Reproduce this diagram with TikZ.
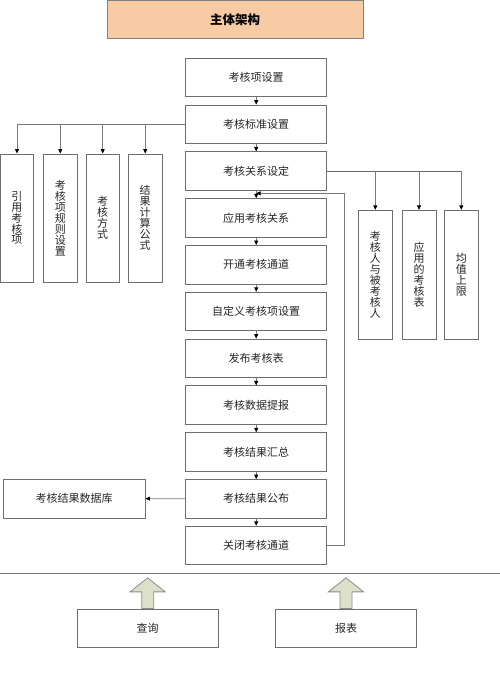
\documentclass[tikz,border=0pt]{standalone}
\usepackage{fontspec}
\setmainfont{Noto Sans CJK SC}
\usetikzlibrary{arrows.meta,calc}
\definecolor{boxgray}{HTML}{6E6E6E}
\definecolor{linegray}{HTML}{7A7A7A}
\definecolor{titlefill}{HTML}{F9CBA5}
\definecolor{arrowfill}{HTML}{DDE0C9}
\begin{document}
\begin{tikzpicture}[x=1pt,y=-1pt,
  box/.style={draw=boxgray, line width=0.9pt, fill=white, inner sep=0pt,
    font=\fontsize{11}{11.5}\selectfont, text=black!85},
  mainbox/.style={box, minimum width=141pt, minimum height=38.5pt},
  vbox/.style={box, minimum width=33.5pt, minimum height=128pt, align=center,
    font=\fontsize{11}{10.9}\selectfont},
  rbox/.style={box, minimum width=34pt, minimum height=128.7pt, align=center,
    font=\fontsize{11}{10.9}\selectfont},
  conn/.style={draw=linegray, line width=0.8pt},
  arr/.style={conn, -{Triangle[length=4.5pt,width=4pt,color=black]}},
  block/.style={draw=black!45, line width=0.8pt, fill=arrowfill}]
\useasboundingbox (0,0) rectangle (500,680);

% title
\node[draw=black!50, line width=0.9pt, fill=titlefill, minimum width=256pt, minimum height=38.5pt,
  inner sep=0pt, font=\fontsize{12.5}{13}\selectfont\bfseries] (title) at (235,19.5) {主体架构};

% main column
\node[mainbox] (b1) at (256.2,77.55) {考核项设置};
\node[mainbox] (b2) at (256.2,124.35) {考核标准设置};
\node[mainbox] (b3) at (256.2,171.15) {考核关系设定};
\node[mainbox] (b4) at (256.2,217.95) {应用考核关系};
\node[mainbox] (b5) at (256.2,264.75) {开通考核通道};
\node[mainbox] (b6) at (256.2,311.55) {自定义考核项设置};
\node[mainbox] (b7) at (256.2,358.35) {发布考核表};
\node[mainbox] (b8) at (256.2,405.15) {考核数据提报};
\node[mainbox] (b9) at (256.2,451.95) {考核结果汇总};
\node[mainbox] (b10) at (256.2,498.75) {考核结果公布};
\node[mainbox] (b11) at (256.2,545.55) {关闭考核通道};

% left vertical boxes
\node[vbox] (l1) at (17,218) {引\\用\\考\\核\\项};
\node[vbox] (l2) at (60.3,218) {考\\核\\项\\规\\则\\设\\置};
\node[vbox] (l3) at (102.7,218) {考\\核\\方\\式};
\node[vbox] (l4) at (145.2,218) {结\\果\\计\\算\\公\\式};

% right vertical boxes
\node[rbox] (r1) at (375.3,274.65) {考\\核\\人\\与\\被\\考\\核\\人};
\node[rbox] (r2) at (419,274.65) {应\\用\\的\\考\\核\\表};
\node[rbox] (r3) at (461.3,274.65) {均\\值\\上\\限};

% database box
\node[box, minimum width=141.7pt, minimum height=38.7pt] (db) at (74.15,498.65) {考核结果数据库};

% bottom boxes
\node[box, minimum width=141.3pt, minimum height=38.7pt] (q) at (147.65,628.35) {查询};
\node[box, minimum width=141.3pt, minimum height=38.7pt] (rep) at (346,628.35) {报表};

% main chain arrows
\foreach \a/\b in {b1/b2,b2/b3,b3/b4,b4/b5,b5/b6,b6/b7,b7/b8,b8/b9,b9/b10,b10/b11}
  \draw[arr] (\a.south) -- (\b.north);

% left branches
\draw[conn] (b2.west) -- (l1.north |- b2.west);
\foreach \n in {l1,l2,l3,l4}
  \draw[arr] (\n.north |- b2.west) -- (\n.north);

% right branches
\draw[conn, draw=black!60, line width=1pt] (b3.east) -- (r3.north |- b3.east);
\foreach \n in {r1,r2,r3}
  \draw[arr] (\n.north |- b3.east) -- (\n.north);

% feedback loop
\coordinate (fb) at (344.3,193.3);
\draw[arr] (b11.east) -| (fb) -- (b3.south |- fb);

% to database
\draw[arr] (b10.west) -- (db.east);

% separator
\coordinate (sepL) at (0,573.7);
\coordinate (sepR) at (500,573.7);
\draw[draw=black!55, line width=0.9pt] (sepL) -- (sepR);

% block arrows
\foreach \n in {q,rep}
  \draw[block] ($(\n.north)+(-6,0)$) -- ++(0,-16.7) -- ++(-11.6,0) -- ($(\n.north)+(0,-30.7)$)
     -- ($(\n.north)+(17.6,-16.7)$) -- ++(-11.6,0) -- ($(\n.north)+(6,0)$) -- cycle;
\end{tikzpicture}
\end{document}
